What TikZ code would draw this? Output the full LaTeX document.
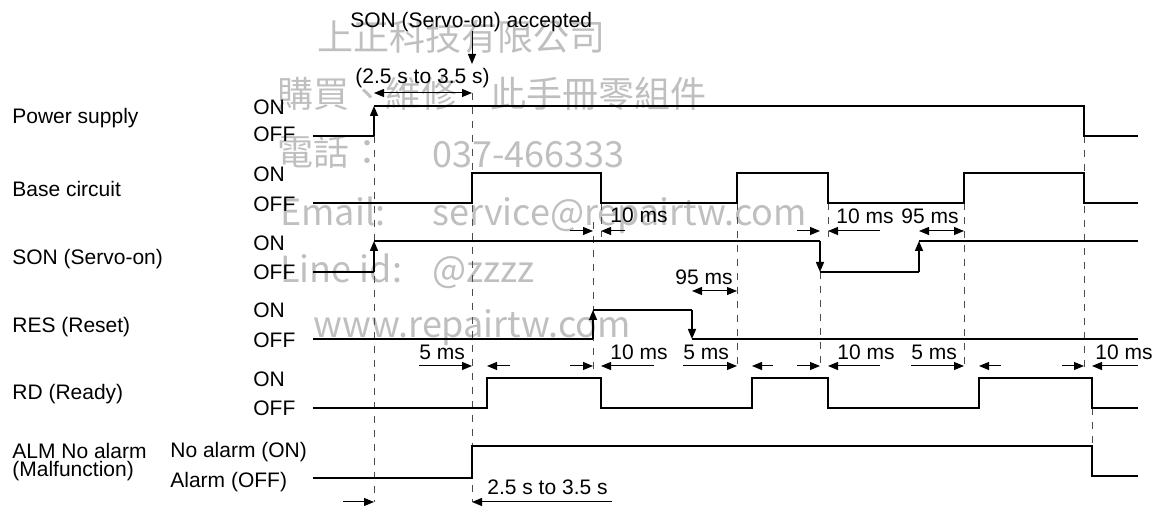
\documentclass[tikz,border=0pt]{standalone}
\usepackage{fontspec}
\setmainfont{Liberation Sans}
\newfontfamily\wmfont{Noto Sans CJK TC}
\usetikzlibrary{arrows.meta}

\begin{document}
\begin{tikzpicture}[x=0.5pt, y=-0.5pt,
		wave/.style={black, line width=0.75pt},
		edge/.style={black, line width=0.75pt, -{Triangle[length=5pt, width=4pt]}},
		grid/.style={black!70, line width=0.45pt, dash pattern=on 3.5pt off 3.5pt},
		dim/.style={black, line width=0.5pt, -{Triangle[length=5pt, width=4pt]}},
		span/.style={black, line width=0.5pt, {Triangle[length=5pt, width=4pt]}-{Triangle[length=5pt, width=4pt]}},
		txt/.style={inner sep=0pt, anchor=base west, font=\fontsize{10.5}{12}\selectfont},
		wm/.style={inner sep=0pt, anchor=base west, text=black!25, font=\wmfont\fontsize{18}{20}\selectfont}]
	\useasboundingbox (0,0) rectangle (1164,506);

	\node[wm] (wmA) at (317,51)  {上正科技有限公司};
	\node[wm] (wmB) at (277,108) {購買、維修};
	\node[wm] (wmC) at (490,108) {此手冊零組件};
	\node[wm] (wmD) at (277,166) {電話：};
	\node[wm] (wmE) at (432,168) {037-466333};
	\node[wm] (wmF) at (280,226) {Email:};
	\node[wm] (wmG) at (432,226) {service@repairtw.com};
	\node[wm] (wmH) at (280,283) {Line id:};
	\node[wm] (wmI) at (432,283) {@zzzz};
	\node[wm] (wmJ) at (313,338) {www.repairtw.com};

	\node[txt] (power) at (12,124) {Power supply};
	\node[txt] (base)  at (12,197) {Base circuit};
	\node[txt] (son)   at (12,265) {SON (Servo-on)};
	\node[txt] (res)   at (12,333) {RES (Reset)};
	\node[txt] (rd)    at (12,400) {RD (Ready)};
	\node[txt] (alm)   at (12,459) {ALM No alarm};
	\node[txt] (malf)  at (12,477) {(Malfunction)};

	\foreach \yon/\yoff [count=\i] in {115/142, 182/212, 251/280, 318/348, 387/416} {
		\node[txt] (on\i)  at (253,\yon)  {ON};
		\node[txt] (off\i) at (253,\yoff) {OFF};
	}
	\node[txt] (noalm) at (170,458) {No alarm (ON)};
	\node[txt] (isalm) at (170,488) {Alarm (OFF)};

	\draw[grid] (374,136) -- (374,502);
	\draw[grid] (472,93)  -- (472,502);
	\draw[grid] (593,222) -- (593,372);
	\draw[grid] (601,203) -- (601,237);
	\draw[grid] (737,203) -- (737,370);
	\draw[grid] (820,272) -- (820,370);
	\draw[grid] (828,203) -- (828,237);
	\draw[grid] (964,203) -- (964,370);
	\draw[grid] (1084,136) -- (1084,370);
	\draw[grid] (1092,408) -- (1092,446);

	\draw[wave] (313,136) -- (374,136);
	\draw[edge] (374,136) -- (374,106);
	\draw[wave] (374,106) -- (1084,106) -- (1084,136) -- (1138,136);

	\draw[wave] (313,203) -- (472,203) -- (472,173) -- (601,173) -- (601,203) -- (737,203) -- (737,173)
		-- (828,173) -- (828,203) -- (964,203) -- (964,173) -- (1084,173) -- (1084,203) -- (1138,203);

	\draw[wave] (313,272) -- (374,272);
	\draw[edge] (374,272) -- (374,241);
	\draw[wave] (374,241) -- (820,241);
	\draw[edge] (820,241) -- (820,272);
	\draw[wave] (820,272) -- (919,272);
	\draw[edge] (919,272) -- (919,241);
	\draw[wave] (919,241) -- (1138,241);

	\draw[wave] (313,339) -- (593,339);
	\draw[edge] (593,339) -- (593,310);
	\draw[wave] (593,310) -- (692,310);
	\draw[edge] (692,310) -- (692,339);
	\draw[wave] (692,339) -- (1138,339);

	\draw[wave] (313,408) -- (487,408) -- (487,378) -- (601,378) -- (601,408) -- (752,408) -- (752,378)
		-- (828,378) -- (828,408) -- (979,408) -- (979,378) -- (1092,378) -- (1092,408) -- (1138,408);

	\draw[wave] (313,478) -- (472,478) -- (472,446) -- (1092,446) -- (1092,476) -- (1138,476);

	\node[txt] (accept) at (350,28) {SON (Servo-on) accepted};
	\draw[dim] (472,31) -- (472,64);
	\node[txt] (delay) at (355,84) {(2.5 s to 3.5 s)};
	\draw[span] (374,93) -- (472,93);

	\node[txt] (t1) at (610,223) {10 ms};
	\draw[dim] (570,231) -- (593,231);
	\draw[dim] (625,231) -- (601,231);
	\node[txt] (t2) at (836,224) {10 ms};
	\draw[dim] (797,231) -- (820,231);
	\draw[dim] (880,231) -- (828,231);
	\node[txt] (t3) at (901,224) {95 ms};
	\draw[span] (919,231) -- (964,231);

	\node[txt] (t4) at (675,285) {95 ms};
	\draw[span] (692,291) -- (737,291);

	\node[txt] (t5) at (419,360) {5 ms};
	\draw[dim] (419,366) -- (472,366);
	\draw[dim] (510,366) -- (487,366);
	\node[txt] (t6) at (610,360) {10 ms};
	\draw[dim] (570,366) -- (593,366);
	\draw[dim] (654,366) -- (601,366);
	\node[txt] (t7) at (683,360) {5 ms};
	\draw[dim] (683,366) -- (737,366);
	\draw[dim] (773,366) -- (752,366);
	\node[txt] (t8) at (837,360) {10 ms};
	\draw[dim] (797,366) -- (820,366);
	\draw[dim] (880,366) -- (828,366);
	\node[txt] (t9) at (911,360) {5 ms};
	\draw[dim] (911,366) -- (964,366);
	\draw[dim] (1001,366) -- (979,366);
	\node[txt] (t10) at (1095,360) {10 ms};
	\draw[dim] (1062,366) -- (1084,366);
	\draw[dim] (1138,366) -- (1092,366);

	\node[txt] (t11) at (487,495) {2.5 s to 3.5 s};
	\draw[dim] (343,502) -- (374,502);
	\draw[dim] (612,502) -- (472,502);
\end{tikzpicture}
\end{document}
